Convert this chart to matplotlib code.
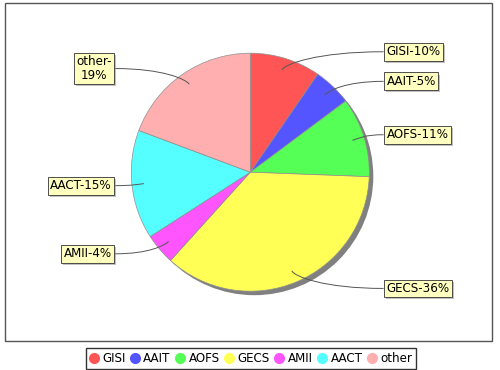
import matplotlib
matplotlib.use("Agg")
import matplotlib.pyplot as plt
import numpy as np
from matplotlib.patches import Circle, Rectangle, PathPatch
from matplotlib.path import Path
from matplotlib.lines import Line2D
import matplotlib.patheffects as pe

categories = ["GISI", "AAIT", "AOFS", "GECS", "AMII", "AACT", "other"]
values = [9.6, 5.2, 10.8, 36.1, 4.2, 14.8, 19.3]
colors = ["#ff5555", "#5555ff", "#55ff55", "#ffff55", "#ff55ff", "#55ffff", "#ffafaf"]
wrapped = {"other"}

W, H = 500, 370
fig = plt.figure(figsize=(W / 100, H / 100), dpi=100)
ax = fig.add_axes([0, 0, 1, 1])

cx, cy, R = 250.3, H - 172.2, 119.0

ax.add_patch(Rectangle((5, H - 341), 487, 338, fill=False, edgecolor="#555555", lw=1.0, zorder=0))
ax.add_patch(Circle((cx + 4, cy - 4), R, facecolor="#808080", edgecolor="none", zorder=1))

wedges, _ = ax.pie(values, colors=colors, startangle=90, counterclock=False,
                   radius=R, center=(cx, cy),
                   wedgeprops=dict(edgecolor="#909090", linewidth=0.5))
for w in wedges:
    w.set_zorder(2)

total = float(sum(values))
labels = []
for c, v in zip(categories, values):
    p = int(round(v / total * 100))
    if c in wrapped:
        labels.append(f"{c}-\n{p}%")
    else:
        labels.append(f"{c}-{p}%")

cum = 0.0
for v, lab in zip(values, labels):
    mid = cum + v / 2.0
    cum += v
    theta = np.deg2rad(90 - mid / total * 360.0)
    ct, st = np.cos(theta), np.sin(theta)
    ax0, ay0 = cx + 0.9 * R * ct, cy + 0.9 * R * st
    ly = cy + 1.06 * R * st
    if ct >= 0:
        ex = cx + 1.12 * R
        tx, ha = ex + 3, "left"
    else:
        ex = cx - 1.14 * R
        tx, ha = ex - 3, "right"
    p0 = (ax0, ay0)
    p1 = (ax0 + 6 * ct, ay0 + 6 * st)
    p2 = (ax0 + 0.35 * (ex - ax0), ly)
    p3 = (ex, ly)
    path = Path([p0, p1, p2, p3], [Path.MOVETO, Path.CURVE4, Path.CURVE4, Path.CURVE4])
    ax.add_patch(PathPatch(path, fill=False, edgecolor="#555555", lw=0.7, zorder=3))
    t = ax.text(tx, ly, lab, ha=ha, va="center", fontsize=8.6, color="black",
                multialignment="center", zorder=5, family="DejaVu Sans",
                linespacing=1.05,
                bbox=dict(boxstyle="square,pad=0.2", facecolor="#ffffc0",
                          edgecolor="#333333", linewidth=0.6))
    t.get_bbox_patch().set_path_effects([
        pe.SimplePatchShadow(offset=(1.5, -1.5), shadow_rgbFace="#999999", alpha=0.6),
        pe.Normal()])

ax.set_xlim(0, W)
ax.set_ylim(0, H)
ax.set_aspect("equal")
ax.axis("off")

handles = [Line2D([], [], marker="o", linestyle="", markerfacecolor=c,
                  markeredgecolor=c, markersize=7) for c in colors]
leg = fig.legend(handles, categories, loc="center", bbox_to_anchor=(251 / W, 1 - 358.5 / H),
                 ncol=7, frameon=True, fancybox=False, edgecolor="black",
                 handlelength=0.7, handletextpad=0.35, columnspacing=0.45,
                 borderpad=0.3, fontsize=8.6)
leg.get_frame().set_linewidth(1.0)

fig.savefig("out.png", dpi=100)
